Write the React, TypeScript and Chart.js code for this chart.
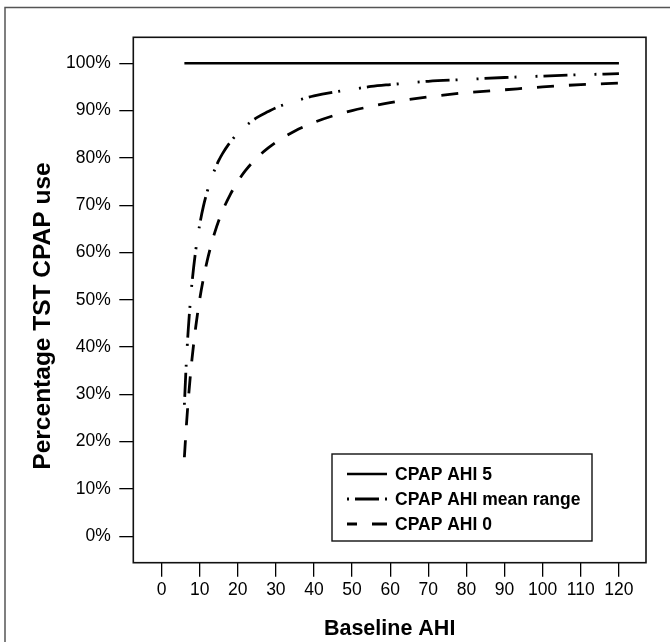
import React, { useEffect, useRef } from "react";
import { Chart, registerables } from "chart.js";

Chart.register(...registerables);

// ---- data ----
const X_TICKS = [0, 10, 20, 30, 40, 50, 60, 70, 80, 90, 100, 110, 120];
const Y_TICKS = [0, 10, 20, 30, 40, 50, 60, 70, 80, 90, 100];

const SERIES_LABELS = ["CPAP AHI 5", "CPAP AHI mean range", "CPAP AHI 0"];

const AHI5_X = [6, 120];
const AHI5_Y = [100, 100];

const AHI_X = [6, 6.5, 7, 7.5, 8, 9, 10, 11, 12, 13, 14, 15, 16, 18, 20, 22, 25, 28, 30, 35, 40, 45, 50, 55, 60, 70, 80, 90, 100, 110, 120];
const MEAN_RANGE_Y = [27.8, 36.6, 43.5, 49.0, 53.6, 60.6, 65.8, 69.8, 72.9, 75.5, 77.6, 79.4, 80.9, 83.3, 85.2, 86.7, 88.5, 89.8, 90.6, 92.0, 93.1, 93.9, 94.5, 95.1, 95.5, 96.2, 96.6, 97.0, 97.3, 97.6, 97.8];
const AHI0_Y = [16.7, 23.1, 28.6, 33.3, 37.5, 44.4, 50.0, 54.5, 58.3, 61.5, 64.3, 66.7, 68.8, 72.2, 75.0, 77.3, 80.0, 82.1, 83.3, 85.7, 87.5, 88.9, 90.0, 90.9, 91.7, 92.9, 93.8, 94.4, 95.0, 95.5, 95.8];

const X_TITLE = "Baseline AHI";
const Y_TITLE = "Percentage TST CPAP use";

// ---- styles ----
const TICK_FONT_FAMILY = '"Liberation Sans", Arial, sans-serif';
const BOLD_FAMILY = '"Liberation Sans", Arial, sans-serif';
const DASH_DOT = [2, 6, 24, 6, 2, 19];
const DASHED = [17, 15];

const framePlugin = {
  id: "frame",
  afterDraw(chart: any) {
    const { ctx, chartArea: a } = chart;
    ctx.save();
    // outer figure border (top + left)
    ctx.strokeStyle = "#555";
    ctx.lineWidth = 1.5;
    ctx.setLineDash([]);
    ctx.beginPath();
    ctx.moveTo(5, 642);
    ctx.lineTo(5, 7.5);
    ctx.lineTo(670, 7.5);
    ctx.stroke();

    // plot box
    ctx.strokeStyle = "#111";
    ctx.lineWidth = 1.6;
    ctx.strokeRect(a.left, a.top, a.right - a.left, a.bottom - a.top);

    // y title
    ctx.save();
    ctx.font = "bold 24.5px " + BOLD_FAMILY;
    ctx.fillStyle = "#000";
    ctx.textAlign = "center";
    ctx.textBaseline = "middle";
    ctx.translate(43, 316);
    ctx.rotate(-Math.PI / 2);
    ctx.fillText(Y_TITLE, 0, 0);
    ctx.restore();

    // legend
    const lx = 332, ly = 454, lw = 260, lh = 87;
    ctx.fillStyle = "#fff";
    ctx.fillRect(lx, ly, lw, lh);
    ctx.strokeStyle = "#111";
    ctx.lineWidth = 1.4;
    ctx.strokeRect(lx, ly, lw, lh);
    ctx.font = "bold 17.5px " + BOLD_FAMILY;
    ctx.textAlign = "left";
    ctx.textBaseline = "middle";
    chart.data.datasets.forEach((ds: any, i: number) => {
      const cy = 475 + 25 * i;
      ctx.save();
      ctx.strokeStyle = "#000";
      ctx.lineWidth = ds.borderWidth;
      ctx.setLineDash(ds.borderDash || []);
      ctx.lineDashOffset = i === 2 ? 7 : 0;
      ctx.beginPath();
      ctx.moveTo(347, cy - 1);
      ctx.lineTo(387, cy - 1);
      ctx.stroke();
      ctx.restore();
      ctx.fillStyle = "#000";
      ctx.fillText(ds.label, 395, cy);
    });
    ctx.restore();
  },
};

export default function App() {
  const ref = useRef<HTMLCanvasElement | null>(null);

  useEffect(() => {
    if (!ref.current) return;
    const toPts = (xs: number[], ys: number[]) => xs.map((x, i) => ({ x, y: ys[i] }));
    const chart = new Chart(ref.current, {
      type: "line",
      data: {
        datasets: [
          {
            label: SERIES_LABELS[0],
            data: toPts(AHI5_X, AHI5_Y),
            borderColor: "#000",
            borderWidth: 2.6,
            pointRadius: 0,
            fill: false,
          },
          {
            label: SERIES_LABELS[1],
            data: toPts(AHI_X, MEAN_RANGE_Y),
            borderColor: "#000",
            borderWidth: 2.8,
            borderDash: DASH_DOT,
            pointRadius: 0,
            cubicInterpolationMode: "monotone",
            fill: false,
          },
          {
            label: SERIES_LABELS[2],
            data: toPts(AHI_X, AHI0_Y),
            borderColor: "#000",
            borderWidth: 2.8,
            borderDash: DASHED,
            pointRadius: 0,
            cubicInterpolationMode: "monotone",
            fill: false,
          },
        ],
      },
      options: {
        animation: false,
        responsive: false,
        devicePixelRatio: 1,
        layout: { padding: { left: 0, top: 37.3, right: 24, bottom: 0 } },
        plugins: { legend: { display: false }, tooltip: { enabled: false } },
        scales: {
          x: {
            type: "linear",
            min: -7.4,
            max: 127.1,
            afterBuildTicks: (s: any) => {
              s.ticks = X_TICKS.map((v) => ({ value: v }));
            },
            afterFit: (s: any) => {
              s.height = 79.3;
            },
            ticks: {
              color: "#000",
              font: { family: TICK_FONT_FAMILY, size: 17.5 },
              padding: 3.3,
              autoSkip: false,
              maxRotation: 0,
            },
            grid: { drawOnChartArea: false, drawTicks: true, tickLength: 14, color: "#000", lineWidth: 1.3 },
            border: { display: false },
            title: {
              display: true,
              text: X_TITLE,
              color: "#000",
              font: { family: BOLD_FAMILY, size: 21.5, weight: "bold" },
              padding: 0,
            },
          },
          y: {
            type: "linear",
            min: -5.6,
            max: 105.5,
            afterBuildTicks: (s: any) => {
              s.ticks = Y_TICKS.map((v) => ({ value: v }));
            },
            afterFit: (s: any) => {
              s.width = 133.3;
            },
            ticks: {
              color: "#000",
              font: { family: TICK_FONT_FAMILY, size: 17.5 },
              padding: 8.6,
              autoSkip: false,
              callback: (v: any) => v + "%",
            },
            grid: { drawOnChartArea: false, drawTicks: true, tickLength: 14, color: "#000", lineWidth: 1.3 },
            border: { display: false },
          },
        },
      },
      plugins: [framePlugin],
    } as any);
    return () => chart.destroy();
  }, []);

  return (
    <div style={{ position: "fixed", left: 0, top: 0, width: 670, height: 642, background: "#fff" }}>
      <canvas ref={ref} width={670} height={642} style={{ display: "block" }} />
    </div>
  );
}
